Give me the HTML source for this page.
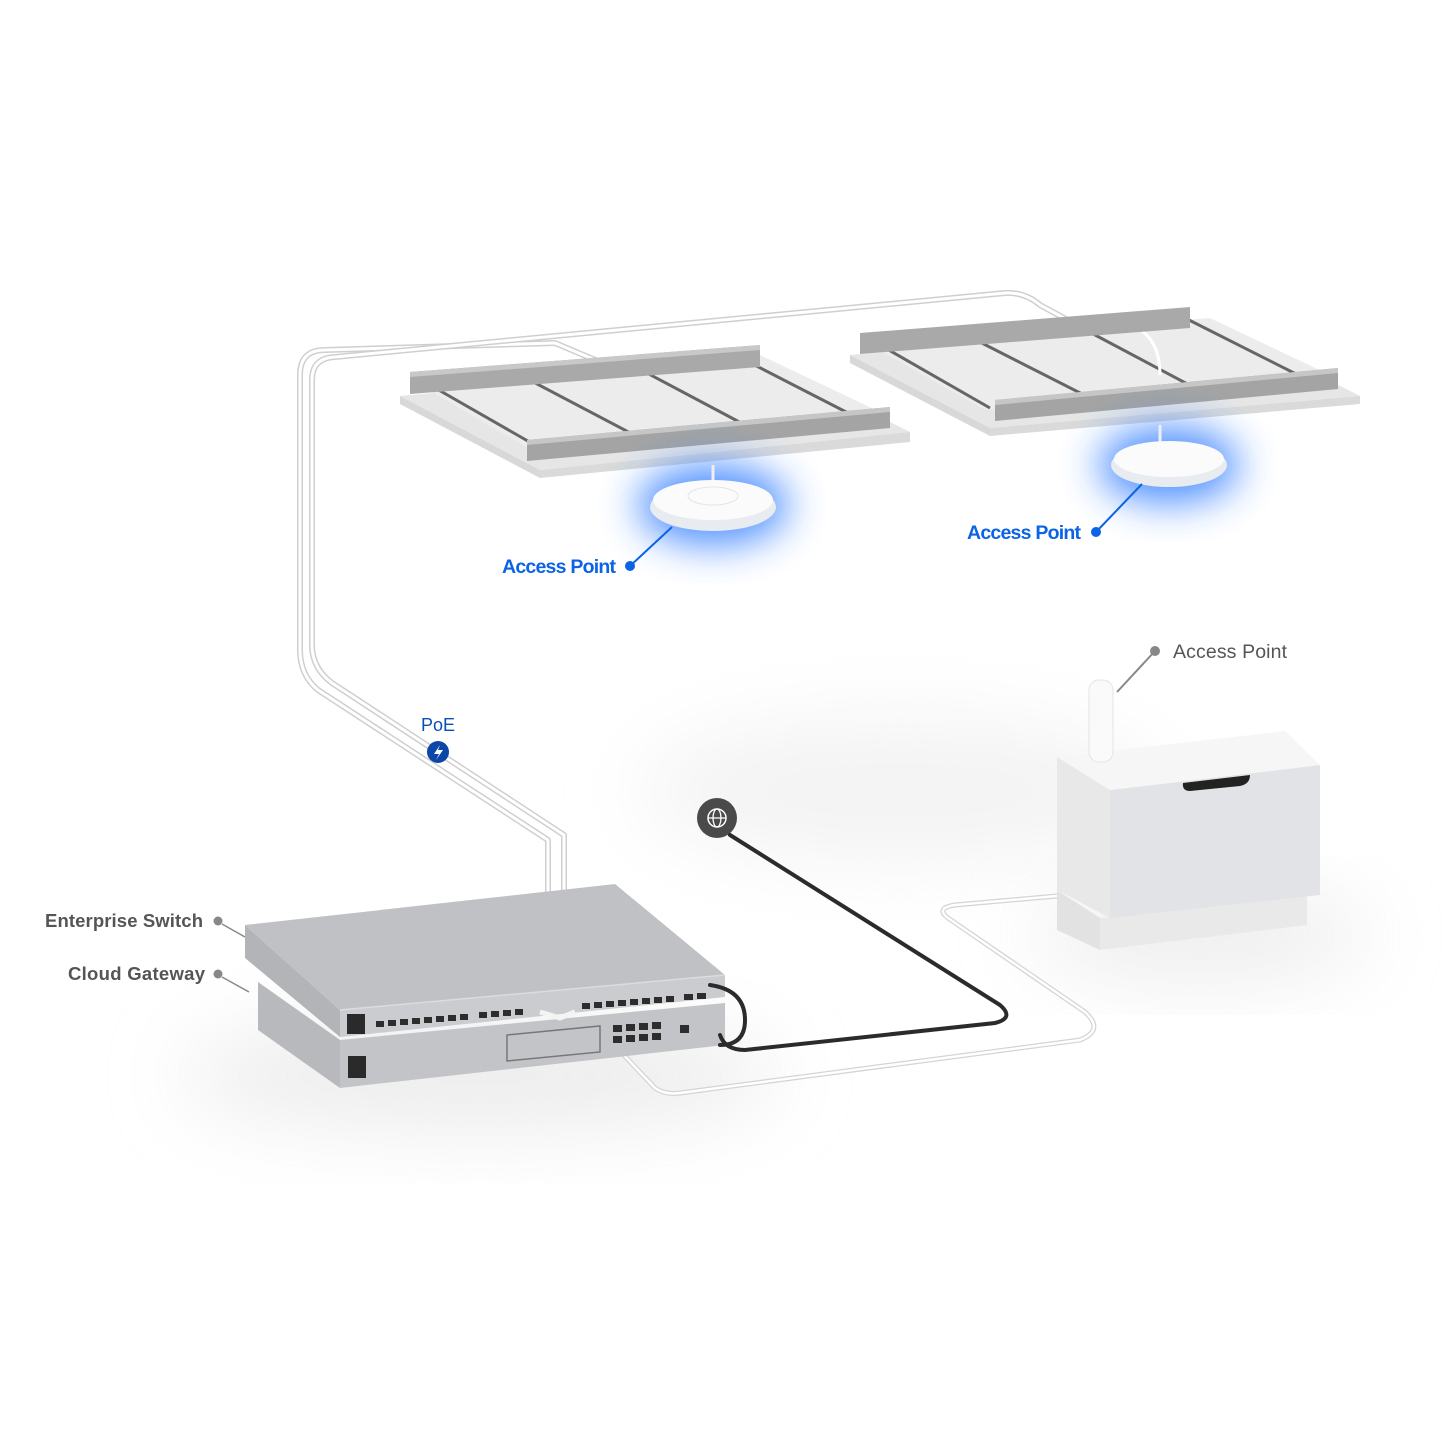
<!DOCTYPE html>
<html><head><style>
html,body{margin:0;padding:0;background:#fff;}
svg{display:block;}
text{font-family:"Liberation Sans",sans-serif;}
</style></head><body>
<svg width="1445" height="1445" viewBox="0 0 1445 1445" xmlns="http://www.w3.org/2000/svg">
<defs>
<filter id="b20" x="-50%" y="-50%" width="200%" height="200%"><feGaussianBlur stdDeviation="20"/></filter>
<filter id="b40" x="-50%" y="-50%" width="200%" height="200%"><feGaussianBlur stdDeviation="40"/></filter>
</defs>
<rect width="1445" height="1445" fill="#fff"/>
<!-- floor shadows -->
<ellipse cx="480" cy="1075" rx="300" ry="55" fill="#e4e4e4" filter="url(#b40)" opacity="0.7"/>
<ellipse cx="900" cy="790" rx="260" ry="70" fill="#f3f3f3" filter="url(#b40)"/>
<ellipse cx="1200" cy="935" rx="170" ry="40" fill="#e6e6e6" filter="url(#b40)" opacity="0.8"/>

<!-- long white cables -->
<g fill="none" stroke-linecap="round" stroke-linejoin="round">
<path d="M548,1010 L548,840 L318,690 Q300,675 300,650 L300,375 Q300,350 325,350 L555,343 L600,362" stroke="#cfcfcf" stroke-width="6"/>
<path d="M548,1010 L548,840 L318,690 Q300,675 300,650 L300,375 Q300,350 325,350 L555,343 L600,362" stroke="#fff" stroke-width="3"/>
<path d="M564,1010 L564,835 L332,683 Q312,668 312,645 L312,380 Q312,358 335,357 L1005,293 Q1025,292 1040,305 L1160,370" stroke="#cfcfcf" stroke-width="6"/>
<path d="M564,1010 L564,835 L332,683 Q312,668 312,645 L312,380 Q312,358 335,357 L1005,293 Q1025,292 1040,305 L1160,370" stroke="#fff" stroke-width="3"/>
</g>

<!-- ceiling 1 -->
<polygon points="400,396 540,470 910,432 770,362" fill="#e6e6e6"/>
<polygon points="400,396 540,470 540,478 400,404" fill="#d8d8d8"/>
<polygon points="540,470 910,432 910,442 540,478" fill="#dadada"/>
<polygon points="420,385 535,452 880,412 760,355" fill="#ececec"/>
<g stroke="#666" stroke-width="3"><line x1="430" y1="385" x2="540" y2="448"/><line x1="520" y1="375" x2="640" y2="438"/><line x1="630" y1="364" x2="745" y2="425"/><line x1="735" y1="355" x2="850" y2="414"/></g>
<polygon points="410,372 760,345 760,367 410,394" fill="#a9a9a9"/>
<polygon points="410,372 760,345 760,350 410,377" fill="#c8c8c8"/>
<polygon points="527,440 890,407 890,428 527,461" fill="#a4a4a4"/>
<polygon points="527,440 890,407 890,412 527,445" fill="#c6c6c6"/>

<!-- ceiling 2 -->
<polygon points="850,355 990,428 1360,396 1220,325" fill="#e6e6e6"/>
<polygon points="850,355 990,428 990,436 850,363" fill="#d8d8d8"/>
<polygon points="990,428 1360,396 1360,404 990,436" fill="#dadada"/>
<polygon points="870,345 985,410 1330,375 1210,318" fill="#ececec"/>
<g stroke="#666" stroke-width="3"><line x1="880" y1="345" x2="990" y2="408"/><line x1="970" y1="337" x2="1090" y2="398"/><line x1="1080" y1="327" x2="1195" y2="388"/><line x1="1185" y1="318" x2="1300" y2="376"/></g>
<path d="M1130,325 Q1160,335 1160,375" fill="none" stroke="#fff" stroke-width="3"/>
<polygon points="860,333 1190,307 1190,328 860,354" fill="#a9a9a9"/>
<polygon points="995,400 1338,368 1338,389 995,421" fill="#a4a4a4"/>
<polygon points="995,400 1338,368 1338,373 995,405" fill="#c6c6c6"/>

<!-- AP1 -->
<ellipse cx="713" cy="505" rx="75" ry="40" fill="#2f7bff" filter="url(#b20)" opacity="0.85"/>
<line x1="713" y1="465" x2="713" y2="485" stroke="#eee" stroke-width="3"/>
<ellipse cx="713" cy="507" rx="63" ry="24" fill="#e8ecf1"/>
<ellipse cx="713" cy="500" rx="60" ry="20" fill="#fbfbfb"/>
<ellipse cx="713" cy="496" rx="25" ry="9" fill="none" stroke="#e6e6e6"/>
<!-- AP2 -->
<ellipse cx="1169" cy="465" rx="70" ry="38" fill="#2f7bff" filter="url(#b20)" opacity="0.85"/>
<line x1="1160" y1="425" x2="1160" y2="445" stroke="#eee" stroke-width="3"/>
<ellipse cx="1169" cy="465" rx="58" ry="22" fill="#e8ecf1"/>
<ellipse cx="1169" cy="459" rx="55" ry="18" fill="#fbfbfb"/>

<!-- labels AP -->
<text x="502" y="573" font-size="19.5" fill="#0b63e5" font-weight="bold" textLength="114">Access Point</text>
<circle cx="630" cy="566" r="5" fill="#0b63e5"/>
<line x1="630" y1="566" x2="672" y2="527" stroke="#0b63e5" stroke-width="2"/>
<text x="967" y="539" font-size="19.5" fill="#0b63e5" font-weight="bold" textLength="114">Access Point</text>
<circle cx="1096" cy="532" r="5" fill="#0b63e5"/>
<line x1="1096" y1="532" x2="1142" y2="484" stroke="#0b63e5" stroke-width="2"/>
<text x="1173" y="658" font-size="19.5" fill="#555" textLength="114">Access Point</text>
<circle cx="1155" cy="651" r="5" fill="#888"/>
<line x1="1155" y1="651" x2="1117" y2="692" stroke="#888" stroke-width="2"/>

<!-- PoE -->
<text x="438" y="731" font-size="18" fill="#0b4fb5" text-anchor="middle">PoE</text>
<circle cx="438" cy="752" r="11" fill="#0c47a8"/>
<path d="M440,745 L434,754 L439,754 L436,760 L443,750 L438,750 Z" fill="#fff"/>

<!-- globe -->
<circle cx="717" cy="818" r="20" fill="#4a4a4a"/>
<circle cx="717" cy="818" r="9" fill="none" stroke="#fff" stroke-width="1.5"/>
<ellipse cx="717" cy="818" rx="4" ry="9" fill="none" stroke="#fff" stroke-width="1.3"/>
<line x1="708" y1="818" x2="726" y2="818" stroke="#fff" stroke-width="1.3"/>

<!-- cabinet cable -->
<path d="M600,1030 L655,1088 Q665,1095 680,1093 L1080,1040 Q1105,1030 1085,1012 L948,918 Q935,908 955,905 L1057,896" fill="none" stroke="#d4d4d4" stroke-width="5"/>
<path d="M600,1030 L655,1088 Q665,1095 680,1093 L1080,1040 Q1105,1030 1085,1012 L948,918 Q935,908 955,905 L1057,896" fill="none" stroke="#fff" stroke-width="2.5"/>

<!-- cabinet -->
<polygon points="1057,890 1100,918 1100,950 1057,930" fill="#e2e2e2"/>
<polygon points="1100,918 1307,895 1307,925 1100,950" fill="#e9e9e9"/>
<polygon points="1057,757 1110,790 1110,918 1057,890" fill="#e8e8e8"/>
<polygon points="1110,790 1320,765 1320,895 1110,918" fill="#e2e3e6"/>
<polygon points="1057,757 1285,731 1320,765 1110,790" fill="#f6f6f6"/>
<path d="M1183,783 L1250,775 Q1250,784 1240,786 L1190,791 Q1182,791 1183,783 Z" fill="#222"/>
<rect x="1089" y="680" width="24" height="82" rx="10" fill="#fafafa" stroke="#e4e4e4"/>

<!-- gateway -->
<polygon points="258,982 340,1040 340,1088 258,1030" fill="#b8b9bc"/>
<polygon points="340,1040 725,1003 725,1045 340,1088" fill="#c3c4c8"/>
<rect x="348" y="1056" width="18" height="22" fill="#2a2a2a"/>
<polygon points="507,1035 600,1026 600,1052 507,1061" fill="none" stroke="#777" stroke-width="1.5"/>
<g fill="#2d2d2d"><rect x="613" y="1025" width="9" height="7"/><rect x="626" y="1024" width="9" height="7"/><rect x="639" y="1023" width="9" height="7"/><rect x="652" y="1022" width="9" height="7"/><rect x="613" y="1036" width="9" height="7"/><rect x="626" y="1035" width="9" height="7"/><rect x="639" y="1034" width="9" height="7"/><rect x="652" y="1033" width="9" height="7"/><rect x="680" y="1025" width="9" height="8"/></g>

<!-- switch -->
<polygon points="245,925 340,1010 340,1037 245,958" fill="#b3b4b8"/>
<polygon points="245,925 615,884 725,975 340,1010" fill="#c0c1c5"/>
<polygon points="340,1010 725,975 725,997 340,1037" fill="#cbccd0"/>
<line x1="340" y1="1010" x2="725" y2="975" stroke="#dcdcdf" stroke-width="1.5"/>
<rect x="347" y="1014" width="18" height="20" fill="#2a2a2a"/>
<g fill="#2d2d2d">
<rect x="376" y="1021" width="8" height="6"/><rect x="388" y="1020" width="8" height="6"/><rect x="400" y="1019" width="8" height="6"/><rect x="412" y="1018" width="8" height="6"/><rect x="424" y="1017" width="8" height="6"/><rect x="436" y="1016" width="8" height="6"/><rect x="448" y="1015" width="8" height="6"/><rect x="460" y="1014" width="8" height="6"/><rect x="479" y="1012" width="8" height="6"/><rect x="491" y="1011" width="8" height="6"/><rect x="503" y="1010" width="8" height="6"/><rect x="515" y="1009" width="8" height="6"/><rect x="582" y="1003" width="8" height="6"/><rect x="594" y="1002" width="8" height="6"/><rect x="606" y="1001" width="8" height="6"/><rect x="618" y="1000" width="8" height="6"/><rect x="630" y="999" width="8" height="6"/><rect x="642" y="998" width="8" height="6"/><rect x="654" y="997" width="8" height="6"/><rect x="666" y="996" width="8" height="6"/><rect x="684" y="994" width="9" height="6"/><rect x="697" y="993" width="9" height="6"/>
</g>
<!-- black cable -->
<path d="M730,835 L1000,1005 Q1015,1018 995,1023 L745,1050 Q725,1050 720,1035 M710,985 Q745,990 745,1020 Q745,1045 720,1045" fill="none" stroke="#2b2b2b" stroke-width="4" stroke-linecap="round"/>
<path d="M540,1012 L560,1018 L575,1012" fill="none" stroke="#f4f4f4" stroke-width="5"/>

<!-- left labels -->
<text x="203" y="927" font-size="18.5" fill="#555" font-weight="bold" text-anchor="end" textLength="158">Enterprise Switch</text>
<circle cx="218" cy="921" r="4.5" fill="#888"/>
<line x1="222" y1="924" x2="245" y2="937" stroke="#888" stroke-width="1.5"/>
<text x="205" y="980" font-size="18.5" fill="#555" font-weight="bold" text-anchor="end" textLength="137">Cloud Gateway</text>
<circle cx="218" cy="974" r="4.5" fill="#888"/>
<line x1="222" y1="977" x2="249" y2="992" stroke="#888" stroke-width="1.5"/>
</svg>
</body></html>
